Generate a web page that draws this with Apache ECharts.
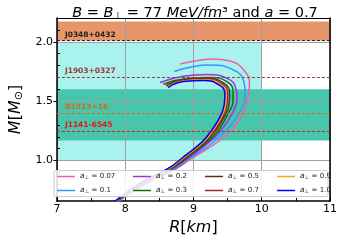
<!DOCTYPE html>
<html><head><meta charset="utf-8">
<script src="https://cdn.jsdelivr.net/npm/echarts@6/dist/echarts.min.js"></script>
<style>html,body{margin:0;padding:0;background:#fff}#c{width:341px;height:243px}</style>
</head><body><div id="c"></div>
<script>
// ---- data ----
const aPerp = ['0.07','0.1','0.2','0.3','0.5','0.7','0.9','1.0'];
const curve007 = [[7.83,0.62],[7.97,0.685],[8.36,0.82],[8.76,0.935],[8.98,1.02],[9.36,1.16],[9.58,1.272],[9.72,1.40],[9.80,1.525],[9.82,1.64],[9.74,1.76],[9.52,1.84],[9.30,1.855],[9.04,1.84],[8.80,1.812]];
const curve01 = [[7.82,0.62],[7.96,0.685],[8.34,0.82],[8.74,0.935],[8.95,1.02],[9.30,1.16],[9.52,1.28],[9.68,1.41],[9.76,1.55],[9.74,1.66],[9.58,1.765],[9.22,1.805],[8.95,1.785],[8.72,1.75]];
const curve02 = [[7.81,0.62],[7.95,0.685],[8.32,0.82],[8.71,0.935],[8.92,1.02],[9.24,1.16],[9.41,1.258],[9.57,1.40],[9.64,1.52],[9.62,1.61],[9.50,1.69],[9.20,1.725],[8.85,1.71],[8.51,1.657]];
const curve03 = [[7.80,0.62],[7.94,0.685],[8.30,0.82],[8.69,0.935],[8.90,1.02],[9.21,1.16],[9.37,1.258],[9.51,1.40],[9.58,1.50],[9.58,1.58],[9.50,1.66],[9.25,1.70],[8.90,1.69],[8.56,1.643]];
const curve05 = [[7.80,0.62],[7.93,0.685],[8.28,0.82],[8.67,0.935],[8.88,1.02],[9.18,1.16],[9.33,1.258],[9.46,1.38],[9.52,1.47],[9.53,1.56],[9.45,1.65],[9.19,1.69],[8.86,1.68],[8.60,1.63]];
const curve07 = [[7.79,0.62],[7.92,0.685],[8.27,0.82],[8.66,0.935],[8.86,1.02],[9.16,1.16],[9.31,1.258],[9.44,1.38],[9.49,1.47],[9.50,1.56],[9.42,1.645],[9.17,1.685],[8.85,1.675],[8.61,1.625]];
const curve09 = [[7.79,0.62],[7.92,0.685],[8.27,0.82],[8.65,0.935],[8.85,1.02],[9.15,1.16],[9.29,1.258],[9.42,1.38],[9.47,1.47],[9.48,1.56],[9.40,1.64],[9.16,1.68],[8.85,1.67],[8.62,1.62]];
const curve10 = [[7.78,0.62],[7.91,0.685],[8.25,0.82],[8.63,0.935],[8.83,1.02],[9.13,1.16],[9.27,1.258],[9.40,1.38],[9.45,1.47],[9.46,1.56],[9.38,1.635],[9.15,1.675],[8.85,1.665],[8.63,1.615]];
const curves = [curve007, curve01, curve02, curve03, curve05, curve07, curve09, curve10];

const pulsarNames = ['J0348+0432','J1903+0327','B1913+16','J1141-6545'];
const pulsarMass = [2.01, 1.70, 1.40, 1.25];

const bandR = [[7,10],[7,11],[7,11]];
const bandM = [[1.0,2.0],[1.17,1.6],[2.01,2.17]];

const xTicks = [7,8,9,10,11];
const yTicks = [1.0,1.5,2.0];
const yMinor = [0.7,0.8,0.9,1.1,1.2,1.3,1.4,1.6,1.7,1.8,1.9,2.1];

// ---- styles ----
const curveColors = ['#f060a8','#3399ff','#a030e0','#107010','#5a3020','#a02828','#ffa020','#0000f0'];
const bandColors = ['#aaf2ee','#48c6ac','#e6966a'];
const pulsarColors = ['#222222','#a03a34','#d2691e','#ee1111'];
const FF = 'DejaVu Sans';

const names = aPerp.map(v => 'a⊥ = ' + v);

const series = [{
  type: 'line', data: [], z: 1, silent: true,
  markArea: {
    silent: true,
    data: bandR.map((r, i) => [
      {xAxis: r[0], yAxis: bandM[i][0], itemStyle: {color: bandColors[i], opacity: 1}},
      {xAxis: r[1], yAxis: bandM[i][1]}
    ])
  },
  markLine: {
    silent: true, symbol: 'none', animation: false,
    data: pulsarMass.map((m, i) => ({
      yAxis: m,
      lineStyle: {color: pulsarColors[i], type: [3, 2], width: 1},
      label: {show: true, formatter: pulsarNames[i], position: 'insideStartTop', distance: [8, 2],
        color: pulsarColors[i], fontSize: 7.5, fontWeight: 'bold', fontFamily: FF}
    }))
  }
}];
curves.forEach((c, i) => series.push({
  name: names[i], type: 'line', data: c, smooth: true, symbol: 'none', z: 3,
  lineStyle: {color: curveColors[i], width: 1.5}, itemStyle: {color: curveColors[i]}
}));

const legendCols = [[0,1],[2,3],[4,5],[6,7]];
const legendLeft = [57, 133, 205, 277];

const option = {
  animation: false,
  title: {
    text: '{i|B} = {i|B}{s|⊥} = 77 {i|MeV/fm}{n|³} and {i|a} = 0.7',
    left: 190, top: 0, textAlign: 'center',
    textStyle: {fontSize: 14.5, fontFamily: FF, fontWeight: 'normal', color: '#000',
      rich: {
        i: {fontStyle: 'italic', fontSize: 14.5, fontFamily: FF, color: '#000'},
        s: {fontSize: 10, fontFamily: FF, color: '#000', padding: [6, 0, 0, 0]},
        n: {fontSize: 14.5, fontFamily: FF, color: '#000'}
      }}
  },
  grid: {left: 51, right: 11, top: 18, bottom: 42},
  xAxis: [{
    type: 'value', min: 7, max: 11, interval: 1, position: 'bottom', z: 2,
    name: '{i|R}[{i|km}]', nameLocation: 'middle', nameGap: 17,
    nameTextStyle: {fontSize: 16, fontFamily: FF, color: '#000',
      rich: {i: {fontStyle: 'italic', fontSize: 16, fontFamily: FF, color: '#000'}}},
    axisLine: {show: true, lineStyle: {color: '#000', width: 1.5}},
    axisTick: {show: true, inside: true, length: 3.5, lineStyle: {color: '#000', width: 1}},
    minorTick: {show: true, splitNumber: 2, length: 3, lineStyle: {color: '#000', width: 1}},
    axisLabel: {fontSize: 11, fontFamily: FF, color: '#000', margin: 3},
    splitLine: {show: true, lineStyle: {color: '#a0a0a0', width: 1}}
  }, {
    type: 'value', min: 7, max: 11, position: 'top', z: 2,
    axisLine: {show: true, lineStyle: {color: '#000', width: 1}},
    axisTick: {show: false}, axisLabel: {show: false}, splitLine: {show: false}
  }],
  yAxis: [{
    type: 'value', min: 0.66, max: 2.2, position: 'left', z: 2,
    name: '{i|M}[{i|M}{s|⊙}]', nameLocation: 'middle', nameGap: 29, nameRotate: 90,
    nameTextStyle: {fontSize: 16, fontFamily: FF, color: '#000',
      rich: {i: {fontStyle: 'italic', fontSize: 16, fontFamily: FF, color: '#000'},
             s: {fontSize: 11, fontFamily: FF, color: '#000', padding: [6, 0, 0, 0]}}},
    axisLine: {show: true, lineStyle: {color: '#000', width: 1.5}},
    axisTick: {show: true, inside: false, length: 3.5, customValues: yTicks, lineStyle: {color: '#000', width: 1}},
    axisLabel: {fontSize: 11, fontFamily: FF, color: '#000', margin: 4, customValues: yTicks,
      formatter: v => v.toFixed(1)},
    splitLine: {show: true, lineStyle: {color: '#a0a0a0', width: 1}}
  }, {
    type: 'value', min: 0.66, max: 2.2, position: 'left', z: 2,
    axisLine: {show: false},
    axisTick: {show: true, inside: true, length: 3, customValues: yMinor, lineStyle: {color: '#000', width: 1}},
    axisLabel: {show: false}, splitLine: {show: false}
  }, {
    type: 'value', min: 0.66, max: 2.2, position: 'right', z: 2,
    axisLine: {show: true, lineStyle: {color: '#000', width: 1.5}},
    axisTick: {show: false}, axisLabel: {show: false}, splitLine: {show: false}
  }],
  legend: legendCols.map((c, i) => ({
    data: c.map(k => names[k]), orient: 'vertical', left: legendLeft[i], top: 172.5,
    icon: 'rect', itemWidth: 18, itemHeight: 1.5, itemGap: 5.5, padding: 0, z: 6, selectedMode: false,
    formatter: n => '{i|a}{s|⊥}{t|' + n.slice(2) + '}',
    textStyle: {fontSize: 7, fontFamily: FF, color: '#222',
      rich: {
        i: {fontStyle: 'italic', fontSize: 7.5, fontFamily: FF, color: '#222'},
        s: {fontSize: 5.5, fontFamily: FF, color: '#222', padding: [3, 0, 0, 0]},
        t: {fontSize: 7, fontFamily: FF, color: '#222'}
      }}
  })),
  graphic: [{
    type: 'rect', z: 5, silent: true,
    shape: {x: 54, y: 170.5, width: 274, height: 26, r: 2},
    style: {fill: 'rgba(255,255,255,0.85)', stroke: '#cccccc', lineWidth: 1}
  }],
  series: series
};
const chart = echarts.init(document.getElementById('c'), null, {renderer: 'canvas'});
chart.setOption(option);
</script></body></html>
